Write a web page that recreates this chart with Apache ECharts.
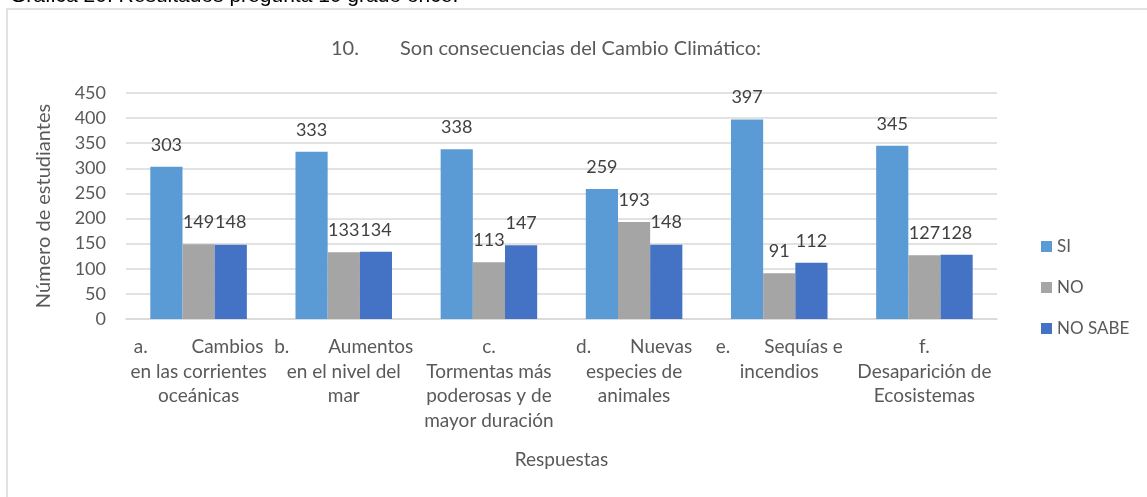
<!DOCTYPE html>
<html>
<head>
<meta charset="utf-8">
<script src="https://cdn.jsdelivr.net/npm/echarts@6/dist/echarts.min.js"></script>
<style>
  html, body { margin: 0; padding: 0; background: #fff; }
  #chart { width: 1147px; height: 497px; }
</style>
</head>
<body>
<div id="chart"></div>
<script>
// categorias y valores
var categories = [
  'a.         Cambios\nen las corrientes\noceánicas',
  'b.        Aumentos\nen el nivel del\nmar',
  'c.\nTormentas más\npoderosas y de\nmayor duración',
  'd.        Nuevas\nespecies de\nanimales',
  'e.       Sequías e\nincendios',
  'f.\nDesaparición de\nEcosistemas'
];
var seriesNames = ['SI', 'NO', 'NO SABE'];
var siValues = [303, 333, 338, 259, 397, 345];
var noValues = [149, 133, 113, 193, 91, 127];
var noSabeValues = [148, 134, 147, 148, 112, 128];
var yTicks = [0, 450, 50]; // min, max, intervalo

var font = 'Lato';
var gris = '#595959';

var myChart = echarts.init(document.getElementById('chart'));

function barSerie(name, data, color) {
  return {
    name: name,
    type: 'bar',
    data: data,
    barGap: '0%',
    barCategoryGap: '33.5%',
    itemStyle: { color: color },
    label: {
      show: true,
      position: 'top',
      distance: 13,
      color: '#404040',
      fontFamily: font,
      fontSize: 18
    }
  };
}

var option = {
  animation: false,
  textStyle: { fontFamily: font },
  graphic: [
    {
      type: 'rect',
      shape: { x: 7, y: 9, width: 1160, height: 500 },
      style: { fill: 'none', stroke: '#d9d9d9', lineWidth: 1.5 },
      silent: true
    },
    {
      type: 'text',
      left: 10,
      top: -14,
      style: {
        text: 'Gráfica 20. Resultados pregunta 10 grado once.',
        fill: '#000',
        font: '21px "Liberation Sans"'
      }
    }
  ],
  title: {
    text: '{n|10.}{s|Son consecuencias del Cambio Climático:}',
    left: 326,
    top: 34,
    textStyle: {
      fontWeight: 'normal',
      rich: {
        n: { width: 69, fontSize: 20, color: gris, fontFamily: font, fontWeight: 'normal' },
        s: { fontSize: 20, color: gris, fontFamily: font, fontWeight: 'normal' }
      }
    }
  },
  legend: {
    orient: 'vertical',
    left: 1036,
    top: 233,
    icon: 'rect',
    itemWidth: 11,
    itemHeight: 11,
    itemGap: 24,
    textStyle: { color: gris, fontSize: 17, fontFamily: font },
    data: seriesNames
  },
  grid: {
    left: 126,
    right: 150,
    top: 93,
    bottom: 178
  },
  xAxis: {
    type: 'category',
    data: categories,
    name: 'Respuestas',
    nameLocation: 'middle',
    nameGap: 131,
    nameTextStyle: { color: gris, fontSize: 19, fontFamily: font },
    axisLine: { lineStyle: { color: '#d9d9d9', width: 1.5 } },
    axisTick: { show: false },
    axisLabel: {
      interval: 0,
      color: gris,
      fontSize: 19,
      lineHeight: 24.5,
      margin: 16,
      fontFamily: font
    }
  },
  yAxis: {
    type: 'value',
    min: yTicks[0],
    max: yTicks[1],
    interval: yTicks[2],
    name: 'Número de estudiantes',
    nameLocation: 'middle',
    nameGap: 72,
    nameTextStyle: { color: gris, fontSize: 20, fontFamily: font },
    axisLine: { show: false },
    axisTick: { show: false },
    axisLabel: { color: gris, fontSize: 18, margin: 20, fontFamily: font },
    splitLine: { lineStyle: { color: '#d9d9d9', width: 1.5 } }
  },
  series: [
    barSerie(seriesNames[0], siValues, '#5B9BD5'),
    barSerie(seriesNames[1], noValues, '#A5A5A5'),
    barSerie(seriesNames[2], noSabeValues, '#4472C4')
  ]
};

myChart.setOption(option);
window.onresize = function () {
  myChart.resize();
};
</script>
</body>
</html>
